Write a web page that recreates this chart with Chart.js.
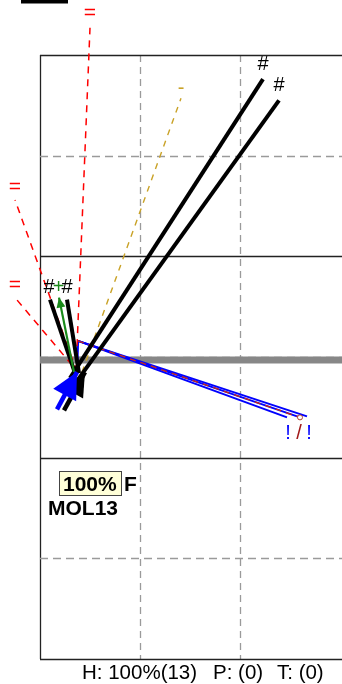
<!DOCTYPE html>
<html>
<head>
<meta charset="utf-8">
<script src="https://cdn.jsdelivr.net/npm/chart.js@4.4.0/dist/chart.umd.min.js"></script>
<style>
  html, body { margin: 0; padding: 0; background: #fff; }
  #wrap { width: 342px; height: 684px; position: relative; }
</style>
</head>
<body>
<div id="wrap"><canvas id="plot"></canvas></div>
<script>
// plot units: x 0..3.02, y 0..6
const xTicks = [0, 1, 2];
const yTicks = [0, 1, 2, 3, 4, 5, 6];
const solidY = [0, 2, 4, 6];

// "#" vectors (thick black)
const hashStart = [[0.30, 2.79], [0.34, 2.72], [0.35, 2.84], [0.39, 2.84]];
const hashEnd = [[2.23, 5.76], [2.39, 5.55], [0.10, 3.57], [0.27, 3.57]];

// "=" vectors (red dashed)
const eqStart = [[0.36, 2.85], [0.37, 2.85], [0.32, 2.92]];
const eqEnd = [[0.50, 6.27], [-0.25, 4.56], [-0.25, 3.59]];

// "-" vector (gold dashed)
const minusStart = [0.42, 2.85];
const minusEnd = [1.41, 5.57];

// "!" vectors (blue), bent at a corner
const bangOrigin = [0.37, 2.84];
const bangCorner = [0.38, 3.16];
const bangEnd = [[2.47, 2.40], [2.60, 2.40], [2.67, 2.41]];
const slashEnd = [2.60, 2.40];

// arrows
const plusArrow = [[0.34, 2.85], [0.19, 3.59]];
const blackArrow = [[0.24, 2.47], [0.45, 2.85]];
const blueArrow = [[0.17, 2.48], [0.37, 2.85]];

const baseLevel = 2.97;
const legendBar = [[-0.19, 6.53], [0.28, 6.53]];

// text labels at vector tips
const labelText = ['#', '#', '#', '#', '+', '=', '=', '=', '-', '!', '/', '!'];
const labelX = [2.23, 2.39, 0.09, 0.27, 0.185, 0.50, -0.25, -0.25, 1.41, 2.48, 2.59, 2.69];
const labelY = [5.91, 5.70, 3.69, 3.69, 3.69, 6.42, 4.69, 3.71, 5.67, 2.24, 2.24, 2.24];
const labelColor = ['#000', '#000', '#000', '#000', '#1a8a1a', '#ff0000', '#ff0000', '#ff0000',
  '#c9a227', '#0000ff', '#a01818', '#0000ff'];

const scoreText = '100%';
const flagText = 'F';
const molName = 'MOL13';
const summary = ['H: 100%(13)', 'P: (0)', 'T: (0)'];

const seg = (a, b, color, width, dash, extra) => Object.assign({
  data: [{ x: a[0], y: a[1] }, { x: b[0], y: b[1] }],
  borderColor: color,
  backgroundColor: color,
  borderWidth: width,
  borderDash: dash || [],
  borderCapStyle: 'butt',
  showLine: true,
  pointRadius: 0,
  clip: false,
}, extra || {});

// listed bottom first
const datasets = [
  seg([0, baseLevel], [3.02, baseLevel], '#878787', 7),
  seg(legendBar[0], legendBar[1], '#000', 3.5),
  seg(bangOrigin, bangCorner, '#0000ff', 2.2),
  ...bangEnd.map((e) => seg(bangCorner, e, '#0000ff', 2)),
  seg(bangCorner, slashEnd, '#cc2a10', 1.3, [6, 5]),
  ...eqStart.map((s, i) => seg(s, eqEnd[i], '#ff0000', 1.5, [7, 6])),
  seg(minusStart, minusEnd, '#c9a227', 1.4, [6, 6]),
  ...hashStart.map((s, i) => seg(s, hashEnd[i], '#000', 4)),
  seg(plusArrow[0], plusArrow[1], '#1a8a1a', 2.2, [], { arrowHead: [10, 4.5] }),
  seg(blackArrow[0], blackArrow[1], '#000', 4.5, [], { arrowHead: [24, 11] }),
  seg(blueArrow[0], blueArrow[1], '#0000ff', 4.5, [], { arrowHead: [26, 13] }),
];
datasets.forEach((d, i) => { d.order = datasets.length - i; });

const gridPlugin = {
  id: 'grid',
  beforeDatasetsDraw(chart) {
    const { ctx, chartArea: a, scales: { x, y } } = chart;
    ctx.save();
    ctx.lineWidth = 1.3;
    xTicks.forEach((v) => {
      const px = Math.round(x.getPixelForValue(v)) + 0.5;
      ctx.strokeStyle = v === 0 ? '#222' : '#9a9a9a';
      ctx.setLineDash(v === 0 ? [] : [7, 5]);
      ctx.beginPath(); ctx.moveTo(px, a.top); ctx.lineTo(px, a.bottom); ctx.stroke();
    });
    yTicks.forEach((v) => {
      const py = Math.round(y.getPixelForValue(v)) + 0.5;
      const solid = solidY.includes(v);
      ctx.strokeStyle = solid ? '#222' : '#9a9a9a';
      ctx.setLineDash(solid ? [] : [8, 5]);
      ctx.beginPath(); ctx.moveTo(a.left, py); ctx.lineTo(a.right, py); ctx.stroke();
    });
    ctx.restore();
  },
};

const markPlugin = {
  id: 'marks',
  afterDatasetsDraw(chart) {
    const { ctx, chartArea: a, scales: { x, y } } = chart;
    ctx.save();
    chart.data.datasets.forEach((d, i) => {
      if (!d.arrowHead) return;
      const pts = chart.getDatasetMeta(i).data;
      const p0 = pts[0], p1 = pts[1];
      const dx = p1.x - p0.x, dy = p1.y - p0.y;
      const len = Math.hypot(dx, dy);
      const ux = dx / len, uy = dy / len;
      const [hl, hw] = d.arrowHead;
      const bx = p1.x - ux * hl, by = p1.y - uy * hl;
      ctx.fillStyle = d.borderColor;
      ctx.beginPath();
      ctx.moveTo(p1.x, p1.y);
      ctx.lineTo(bx - uy * hw, by + ux * hw);
      ctx.lineTo(bx + uy * hw, by - ux * hw);
      ctx.closePath();
      ctx.fill();
    });

    // small circle at the "/" tip
    ctx.strokeStyle = '#b04030';
    ctx.fillStyle = '#fff';
    ctx.lineWidth = 1;
    ctx.beginPath();
    ctx.arc(x.getPixelForValue(slashEnd[0]), y.getPixelForValue(slashEnd[1]), 2.5, 0, Math.PI * 2);
    ctx.fill(); ctx.stroke();

    ctx.textAlign = 'center';
    ctx.textBaseline = 'middle';
    labelText.forEach((t, i) => {
      ctx.font = (t === '=' ? '21px' : '20px') + ' "Liberation Sans", Arial, sans-serif';
      ctx.fillStyle = labelColor[i];
      ctx.fillText(t, x.getPixelForValue(labelX[i]), y.getPixelForValue(labelY[i]));
    });

    // score box
    ctx.textAlign = 'left';
    ctx.textBaseline = 'alphabetic';
    ctx.fillStyle = '#ffffd8';
    ctx.fillRect(a.left + 19.5, a.top + 416.5, 62, 24);
    ctx.strokeStyle = '#444';
    ctx.lineWidth = 1;
    ctx.strokeRect(a.left + 19.5, a.top + 416.5, 62, 24);
    ctx.fillStyle = '#000';
    ctx.font = 'bold 21px "Liberation Sans", Arial, sans-serif';
    ctx.fillText(scoreText, a.left + 23, a.top + 436);
    ctx.fillText(flagText, a.left + 84, a.top + 436);
    ctx.fillText(molName, a.left + 8, a.top + 460);

    ctx.font = '20.5px "Liberation Sans", Arial, sans-serif';
    ctx.fillText(summary[0], 82, a.bottom + 20);
    ctx.fillText(summary[1], 213, a.bottom + 20);
    ctx.fillText(summary[2], 277, a.bottom + 20);
    ctx.restore();
  },
};

new Chart(document.getElementById('plot'), {
  type: 'scatter',
  data: { datasets },
  options: {
    responsive: true,
    maintainAspectRatio: false,
    animation: false,
    events: [],
    layout: { padding: { left: 40, top: 55, right: 0, bottom: 25 } },
    plugins: { legend: { display: false }, tooltip: { enabled: false } },
    scales: {
      x: { type: 'linear', min: 0, max: 3.02, display: false },
      y: { type: 'linear', min: 0, max: 6, display: false },
    },
  },
  plugins: [gridPlugin, markPlugin],
});
</script>
</body>
</html>
